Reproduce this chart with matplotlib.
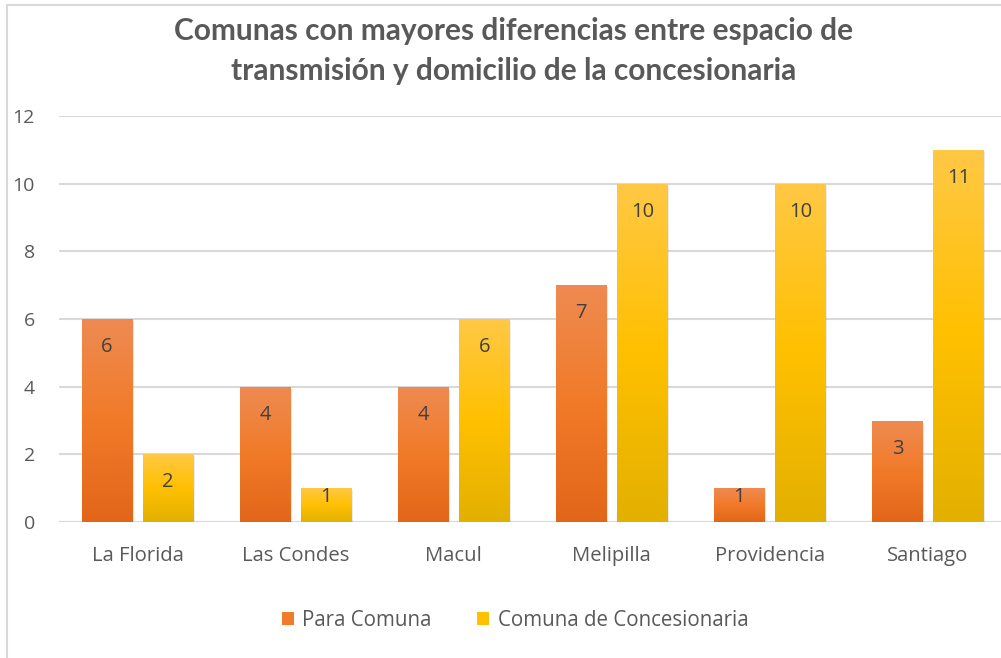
import matplotlib
matplotlib.use("Agg")
import matplotlib.pyplot as plt
import numpy as np
from matplotlib.patches import Rectangle, Patch
from matplotlib.colors import LinearSegmentedColormap

plt.rcParams['font.family'] = ['Open Sans', 'DejaVu Sans']

categories = ["La Florida", "Las Condes", "Macul", "Melipilla", "Providencia", "Santiago"]
para_comuna = [6, 4, 4, 7, 1, 3]
comuna_concesionaria = [2, 1, 6, 10, 10, 11]
series_names = ["Para Comuna", "Comuna de Concesionaria"]
title = "Comunas con mayores diferencias entre espacio de\ntransmisión y domicilio de la concesionaria"

W, H = 1001, 658
fig = plt.figure(figsize=(W / 100, H / 100), dpi=100)

# chart border
border = Rectangle((7 / W, -0.1), 1.2, 1 - 5 / H + 0.1, transform=fig.transFigure,
                   fill=False, edgecolor="#D9D9D9", linewidth=1.5, clip_on=False)
fig.patches.append(border)

ax_h_px = 406
ax = fig.add_axes([58.5 / W, 1 - 522 / H, 948.5 / W, ax_h_px / H])
ax.set_xlim(-0.5, len(categories) - 0.5)
ax.set_ylim(0, 12)
ax.set_yticks(range(0, 13, 2))
for s in ax.spines.values():
    s.set_visible(False)
ax.tick_params(length=0, colors="#595959")
ax.tick_params(axis="y", pad=17, labelsize=14)
ax.tick_params(axis="x", pad=17, labelsize=14.6)
ax.yaxis.grid(True, color="#D9D9D9", linewidth=1.5)
ax.set_axisbelow(True)
ax.set_xticks(range(len(categories)))
ax.set_xticklabels(categories)

x = np.arange(len(categories))
bw = 50 / 158
off = 30.5 / 158

orange_cmap = LinearSegmentedColormap.from_list("o", ["#E2661A", "#F17A28", "#EE8B52"])
yellow_cmap = LinearSegmentedColormap.from_list("y", ["#E3B000", "#FFC000", "#FFC845"])
grad = np.linspace(0, 1, 256).reshape(-1, 1)
px_per_unit = ax_h_px / 12

def draw(xs, vals, cmap):
    bars = ax.bar(xs, vals, width=bw, color="none", edgecolor="none", zorder=3)
    for b, v in zip(bars, vals):
        x0, w, h = b.get_x(), b.get_width(), b.get_height()
        ax.add_patch(Rectangle((x0 + 0.012, -0.06), w, h, facecolor="#000000", alpha=0.08,
                               edgecolor="none", zorder=2))
        im = ax.imshow(grad, cmap=cmap, aspect="auto", extent=(x0, x0 + w, 0, h),
                       origin="lower", zorder=3)
        im.set_clip_path(b)
        hpx = h * px_per_unit
        off_px = min(28, hpx - 25)
        ax.annotate(str(v), (x0 + w / 2, h), xytext=(0, -off_px * 0.72), textcoords="offset points",
                    ha="center", va="center", fontsize=14.5, color="#404040", zorder=5)
    return bars

draw(x - off, para_comuna, orange_cmap)
draw(x + off, comuna_concesionaria, yellow_cmap)
ax.set_xlim(-0.5, len(categories) - 0.5)
ax.set_ylim(0, 12)
ax.axhline(0, color="#D9D9D9", linewidth=1.5, zorder=1)

fig.text(514 / W, 1 - 51 / H, title, ha="center", va="center", fontsize=21.5,
         fontweight="bold", color="#595959", linespacing=1.48,
         family=["Lato", "DejaVu Sans"])

handles = [Patch(facecolor="#F07C2C"), Patch(facecolor="#FFC000")]
fig.legend(handles, series_names, loc="center", bbox_to_anchor=(515 / W, 1 - 620 / H),
           ncol=2, frameon=False, fontsize=14.8, labelcolor="#595959",
           handlelength=0.6, handleheight=0.6, handletextpad=0.4, columnspacing=2.2)

fig.savefig("out.png", dpi=100)
